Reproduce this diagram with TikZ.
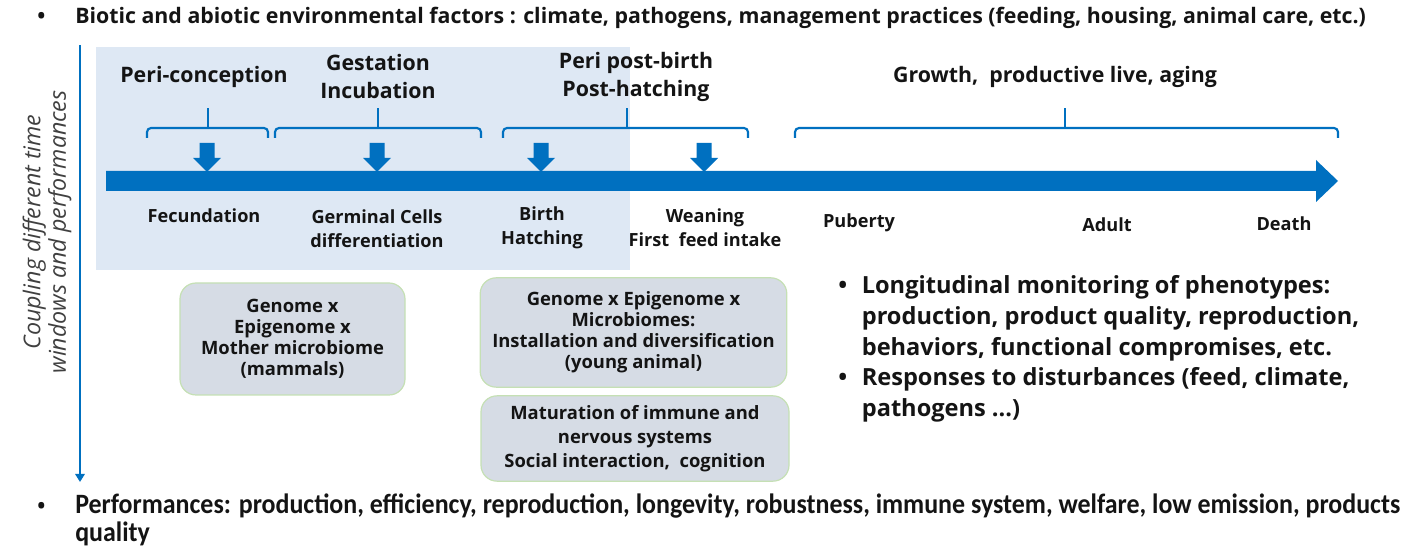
\documentclass[tikz,border=0pt]{standalone}
\usepackage{fontspec}
\setmainfont{Open Sans}
\newfontfamily\carl[FakeStretch=0.926]{Carlito}
\usetikzlibrary{arrows.meta}
\definecolor{myblue}{HTML}{0070C0}
\definecolor{bgblue}{HTML}{DEE8F4}
\definecolor{boxfill}{HTML}{D6DCE5}
\definecolor{boxline}{HTML}{C5E0B4}
\definecolor{txt}{HTML}{141414}
\definecolor{graytxt}{HTML}{404040}
\newcommand{\fs}[2]{\fontsize{#1}{#2}\selectfont}
\tikzset{
  lbl/.style={text=txt, font=\bfseries\fs{13.6}{18}, align=center, inner sep=0pt},
  phase/.style={text=txt, font=\bfseries\fs{16}{21}, align=center, inner sep=0pt},
  gbox/.style={draw=boxline, line width=0.9pt, fill=boxfill, rounded corners=12pt, text=txt,
     font=\bfseries\fs{13.8}{15.8}, align=center, inner sep=0pt},
  brace/.style={draw=myblue, line width=1.6pt, rounded corners=3pt},
  blue arrow/.style={fill=myblue, draw=none},
}
\begin{document}
\begin{tikzpicture}[x=0.75pt, y=-0.75pt]
\useasboundingbox (0,0) rectangle (1404,548);
% background of early phases
\fill[bgblue] (96,47) rectangle (630,270);
% top bullet
\node[anchor=west, text=txt, font=\bfseries\fs{16}{18}, inner sep=0pt] (top) at (37,18)
  {\makebox[28.5pt][l]{•}Biotic and abiotic environmental factors : climate, pathogens, management practices (feeding, housing, animal care, etc.)};
% vertical axis
\coordinate (vtop) at (80,45);
\coordinate (vbot) at (80,482);
\draw[myblue, line width=1.7pt, -{Triangle[width=7pt,length=6pt]}] (vtop) -- (vbot);
\node[rotate=90, text=graytxt, font=\itshape\fs{17.4}{19}, align=center, inner sep=0pt] (vtext) at (47,232)
  {Coupling different time\\windows and performances};
% phase titles
\node[phase] (p1) at (204,77) {Peri-conception};
\node[phase] (p2) at (378,77) {Gestation\\Incubation};
\node[phase] (p3) at (636,77) {Peri post-birth\\Post-hatching};
\node[phase] (p4) at (1055,77) {Growth,\ \ productive live, aging};
% braces
\draw[brace] (147,138) -- (147,128) -- (268,128) -- (268,138);
\draw[brace] (208,128) -- (208,108);
\draw[brace] (275,138) -- (275,128) -- (481,128) -- (481,138);
\draw[brace] (378,128) -- (378,108);
\draw[brace] (503,138) -- (503,128) -- (748,128) -- (748,138);
\draw[brace] (627,128) -- (627,108);
\draw[brace] (795,138) -- (795,128) -- (1338,128) -- (1338,138);
\draw[brace] (1065,128) -- (1065,108);
% main time arrow
\fill[blue arrow] (106,171) -- (1316,171) -- (1316,160) -- (1338,181) -- (1316,202) -- (1316,191) -- (106,191) -- cycle;
% small down arrows
\foreach \xx in {207,377,541,704}{
  \fill[blue arrow] (\xx-7.5,143) -- (\xx+7.5,143) -- (\xx+7.5,158) -- (\xx+14,158) -- (\xx,172) -- (\xx-14,158) -- (\xx-7.5,158) -- cycle;
}
% event labels
\node[lbl] (fec) at (204,216) {Fecundation};
\node[lbl] (germ) at (377,229) {Germinal Cells\\differentiation};
\node[lbl] (birth) at (542,228) {Birth\\Hatching};
\node[lbl] (wean) at (705,228) {Weaning\\First\ \ feed intake};
\node[lbl] (pub) at (859,223) {Puberty};
\node[lbl] (adult) at (1107,225) {Adult};
\node[lbl] (death) at (1284,224) {Death};
% boxes
\node[gbox, minimum width=168.75pt, minimum height=84pt] (b1) at (292.5,339)
  {Genome x\\Epigenome x\\Mother microbiome\\(mammals)};
\node[gbox, minimum width=230pt, minimum height=82pt] (b2) at (633.5,332.5)
  {Genome x Epigenome x\\Microbiomes:\\Installation and diversification\\(young animal)};
\node[gbox, minimum width=231pt, minimum height=64pt, font=\bfseries\fs{13.8}{18}] (b3) at (635,438.5)
  {Maturation of immune and\\nervous systems\\Social interaction,\ \ cognition};
% right bullets
\node[anchor=north west, text=txt, font=\bfseries\fs{17.7}{23}, inner sep=0pt] (mon) at (838,272)
  {\begin{tabular}{@{}l@{\hspace{11pt}}l@{}}
   • & Longitudinal monitoring of phenotypes:\\
     & production, product quality, reproduction,\\
     & behaviors, functional compromises, etc.\\
   • & Responses to disturbances (feed, climate,\\
     & pathogens ...)
   \end{tabular}};
% bottom bullet
\node[anchor=north west, text=txt, font=\carl\bfseries\fs{21}{20.5}, inner sep=0pt, align=left] (perf) at (37,494)
  {\makebox[28.5pt][l]{\normalfont\bfseries\fs{16}{16}•}Performances: production, efficiency, reproduction, longevity, robustness, immune system, welfare, low emission, products\\
   \hspace*{28.5pt}quality};
\end{tikzpicture}
\end{document}
